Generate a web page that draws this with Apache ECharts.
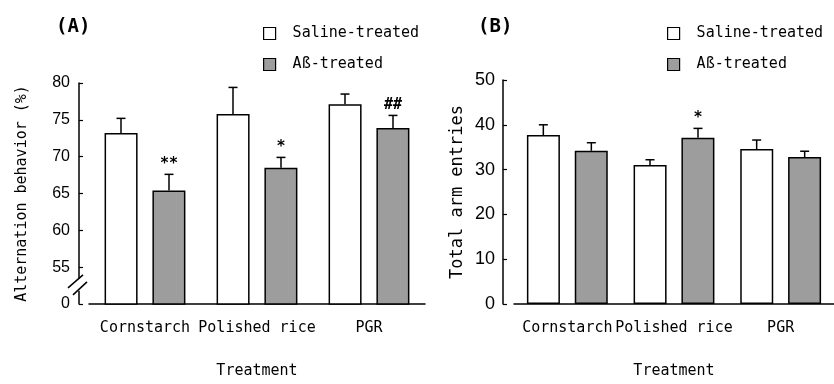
<!DOCTYPE html>
<html>
<head>
<meta charset="utf-8">
<script src="https://cdn.jsdelivr.net/npm/echarts@6/dist/echarts.min.js"></script>
<style>
html,body{margin:0;padding:0;background:#fff;}
#c{width:834px;height:384px;}
</style>
</head>
<body>
<div id="c"></div>
<script>
// ---- data ----
const categories = ['Cornstarch', 'Polished rice', 'PGR'];
const seriesNames = ['Saline-treated', 'A\u00df-treated'];

const altSaline    = [73.2, 75.8, 77.1];
const altSalineErr = [2.0, 3.6, 1.4];
const altAbeta     = [65.4, 68.5, 73.9];
const altAbetaErr  = [2.2, 1.4, 1.7];
const altMarks     = ['**', '*', '##'];

const armSaline    = [37.7, 31.0, 34.6];
const armSalineErr = [2.3, 1.2, 2.0];
const armAbeta     = [34.2, 37.1, 32.8];
const armAbetaErr  = [1.8, 2.1, 1.3];
const armMarks     = ['', '*', ''];

const altTicks = [50, 55, 60, 65, 70, 75, 80];   // 50 shown as broken "0"
const armTicks = [0, 10, 20, 30, 40, 50];

// ---- styles ----
const MONO = '"DejaVu Sans Mono", monospace';
const SANS = '"Liberation Sans", Arial, sans-serif';
const GRAY = '#9d9d9d';
const BAR_W = 33;
const HALF_SEP = 24;

const chart = echarts.init(document.getElementById('c'), null, {renderer: 'canvas'});

function errSeries(name, xi, vals, errs, marks, side) {
  return {
    type: 'custom', name: name + ' err', xAxisIndex: xi, yAxisIndex: xi,
    z: 5, silent: true,
    data: vals.map((v, i) => [i, v, errs[i]]),
    renderItem: function (params, api) {
      const i = api.value(0), v = api.value(1), e = api.value(2);
      const p = api.coord([i, v]);
      const t = api.coord([i, v + e]);
      const x = p[0] + side * HALF_SEP;
      const children = [
        {type: 'line', shape: {x1: x, y1: p[1], x2: x, y2: t[1]}, style: {stroke: '#000', lineWidth: 1.5}},
        {type: 'line', shape: {x1: x - 4.5, y1: t[1], x2: x + 4.5, y2: t[1]}, style: {stroke: '#000', lineWidth: 1.5}}
      ];
      const m = marks[params.dataIndex];
      if (m) {
        children.push({type: 'text', style: {text: m, x: x, y: t[1] - 3, align: 'center', verticalAlign: 'bottom',
          font: 'bold 15px ' + MONO, fill: '#000'}});
      }
      return {type: 'group', children: children};
    }
  };
}

function barSeries(name, xi, vals, fill) {
  return {
    type: 'bar', name: name, xAxisIndex: xi, yAxisIndex: xi,
    data: vals, barWidth: BAR_W, barGap: '45%',
    itemStyle: {color: fill, borderColor: '#000', borderWidth: 1.5},
    emphasis: {disabled: true}
  };
}

function xAx(gi) {
  return {
    type: 'category', gridIndex: gi, data: categories,
    axisLine: {lineStyle: {color: '#000', width: 1.5}},
    axisTick: {show: false},
    axisLabel: {color: '#000', fontFamily: MONO, fontSize: 15, margin: 17, interval: 0},
    name: 'Treatment', nameLocation: 'middle', nameGap: 60,
    nameTextStyle: {color: '#000', fontFamily: MONO, fontSize: 15}
  };
}

const legendData = [
  {name: seriesNames[0], itemStyle: {color: '#fff', borderColor: '#000', borderWidth: 1.2}},
  {name: seriesNames[1], itemStyle: {color: GRAY, borderColor: '#000', borderWidth: 1.2}}
];
function legend(left) {
  return {
    left: left, top: 26, padding: 0, orient: 'vertical', itemWidth: 12, itemHeight: 12, itemGap: 16,
    icon: 'rect', data: legendData, selectedMode: false,
    textStyle: {color: '#000', fontFamily: MONO, fontSize: 15, padding: [0, 0, 0, 12]}
  };
}

const option = {
  animation: false,
  backgroundColor: '#fff',
  title: [
    {text: '(A)', left: 51, top: 13, textStyle: {fontFamily: MONO, fontWeight: 'bold', fontSize: 19, color: '#000'}},
    {text: '(B)', left: 473, top: 13, textStyle: {fontFamily: MONO, fontWeight: 'bold', fontSize: 19, color: '#000'}}
  ],
  legend: [legend(263), legend(667)],
  grid: [
    {left: 89, width: 336, top: 83, height: 225},
    {left: 514, width: 336, top: 80, height: 228}
  ],
  xAxis: [xAx(0), xAx(1)],
  yAxis: [
    {
      type: 'value', gridIndex: 0, min: altTicks[0], max: altTicks[altTicks.length - 1], interval: 5, offset: 10,
      axisLine: {show: true, lineStyle: {color: '#000', width: 1.5}},
      axisTick: {show: true, inside: true, length: 4, lineStyle: {color: '#000', width: 1.2}},
      splitLine: {show: false},
      axisLabel: {color: '#000', fontFamily: SANS, fontSize: 16, margin: 9,
        formatter: v => (v === altTicks[0] ? '0' : String(v))},
      name: 'Alternation behavior (%)', nameLocation: 'middle', nameRotate: 90, nameGap: 49,
      nameTextStyle: {color: '#000', fontFamily: MONO, fontSize: 15}
    },
    {
      type: 'value', gridIndex: 1, min: armTicks[0], max: armTicks[armTicks.length - 1], interval: 10, offset: 11,
      axisLine: {show: true, lineStyle: {color: '#000', width: 1.5}},
      axisTick: {show: true, inside: true, length: 4, lineStyle: {color: '#000', width: 1.2}},
      splitLine: {show: false},
      axisLabel: {color: '#000', fontFamily: SANS, fontSize: 18, margin: 8},
      name: 'Total arm entries', nameLocation: 'middle', nameRotate: 90, nameGap: 37,
      nameTextStyle: {color: '#000', fontFamily: MONO, fontSize: 17}
    }
  ],
  series: [
    barSeries(seriesNames[0], 0, altSaline, '#fff'),
    barSeries(seriesNames[1], 0, altAbeta, GRAY),
    barSeries(seriesNames[0], 1, armSaline, '#fff'),
    barSeries(seriesNames[1], 1, armAbeta, GRAY),
    errSeries(seriesNames[0], 0, altSaline, altSalineErr, ['', '', ''], -1),
    errSeries(seriesNames[1], 0, altAbeta, altAbetaErr, altMarks, 1),
    errSeries(seriesNames[0], 1, armSaline, armSalineErr, ['', '', ''], -1),
    errSeries(seriesNames[1], 1, armAbeta, armAbetaErr, armMarks, 1)
  ]
};
chart.setOption(option);

// axis-break marks on panel A, placed from the axis scale
const yb = chart.convertToPixel({yAxisIndex: 0}, 52.6);
const gridRect = chart.getModel().getComponent('grid', 0).coordinateSystem.getRect();
const ax = gridRect.x - 10;
chart.setOption({
  graphic: [
    {type: 'rect', shape: {x: ax - 2, y: yb - 6, width: 4, height: 12}, style: {fill: '#fff'}, z: 100},
    {type: 'line', shape: {x1: ax - 11, y1: yb + 3, x2: ax + 4, y2: yb - 10}, style: {stroke: '#000', lineWidth: 1.5}, z: 101},
    {type: 'line', shape: {x1: ax - 6, y1: yb + 10, x2: ax + 8, y2: yb - 3}, style: {stroke: '#000', lineWidth: 1.5}, z: 101}
  ]
});
</script>
</body>
</html>
